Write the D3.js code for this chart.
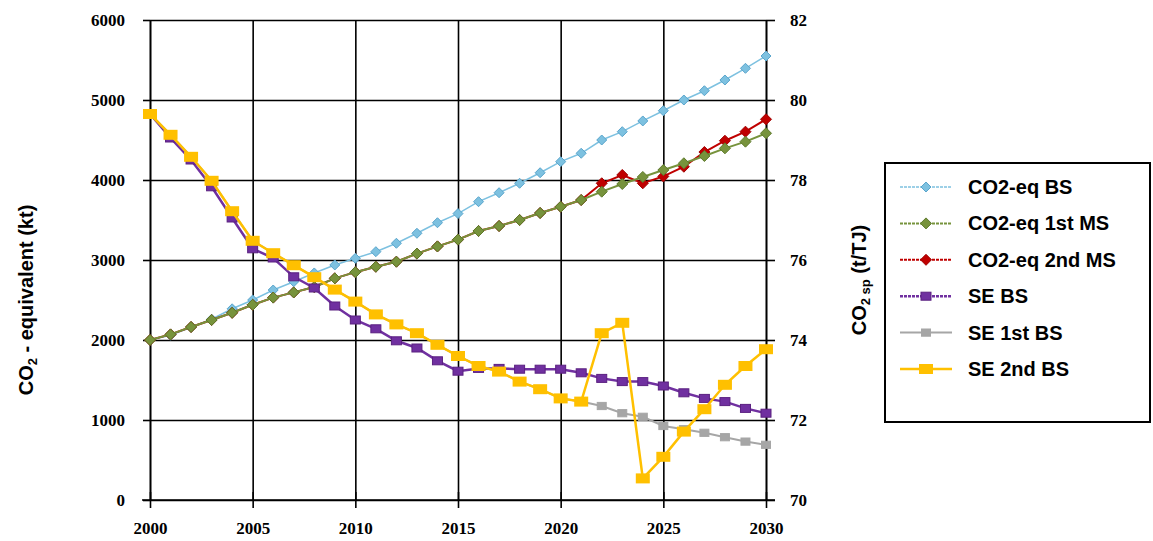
<!DOCTYPE html>
<html>
<head>
<meta charset="utf-8">
<script src="https://cdn.jsdelivr.net/npm/d3@7"></script>
<style>
  body { margin: 0; background: #fff; }
  svg { display: block; }
  text { font-family: "Liberation Sans", Arial, sans-serif; font-weight: bold; fill: #000; }
</style>
</head>
<body>
<script>
// years on the x axis
const years = [2000, 2001, 2002, 2003, 2004, 2005, 2006, 2007, 2008, 2009, 2010,
  2011, 2012, 2013, 2014, 2015, 2016, 2017, 2018, 2019, 2020,
  2021, 2022, 2023, 2024, 2025, 2026, 2027, 2028, 2029, 2030];

// CO2-equivalent (kt), left axis
const co2BS = [2000, 2060, 2160, 2260, 2390, 2500, 2625, 2729, 2838, 2938, 3021,
  3104, 3209, 3334, 3466, 3580, 3729, 3841, 3959, 4091, 4229,
  4334, 4500, 4604, 4738, 4866, 5000, 5116, 5250, 5396, 5550];
const co2MS1 = [2000, 2070, 2163, 2250, 2340, 2440, 2530, 2595, 2662, 2771, 2848,
  2916, 2979, 3080, 3170, 3255, 3363, 3425, 3500, 3588, 3666,
  3750, 3854, 3950, 4038, 4125, 4209, 4300, 4396, 4479, 4584];
const co2MS2 = [2000, 2070, 2163, 2250, 2340, 2440, 2530, 2595, 2662, 2771, 2848,
  2916, 2979, 3080, 3170, 3255, 3363, 3425, 3500, 3588, 3666,
  3750, 3959, 4063, 3959, 4045, 4166, 4350, 4491, 4604, 4759];

// specific emissions (t/TJ), right axis
const seBS = [79.65, 79.05, 78.5, 77.83, 77.05, 76.28, 76.05, 75.58, 75.3, 74.85, 74.5,
  74.28, 73.98, 73.8, 73.48, 73.22, 73.29, 73.29, 73.27, 73.27, 73.27,
  73.18, 73.04, 72.96, 72.96, 72.85, 72.68, 72.54, 72.46, 72.29, 72.17];
const se1 = [79.65, 79.13, 78.58, 77.98, 77.22, 76.48, 76.17, 75.87, 75.57, 75.26, 74.96,
  74.64, 74.39, 74.17, 73.88, 73.6, 73.35, 73.21, 72.96, 72.77, 72.54,
  72.46, 72.35, 72.17, 72.08, 71.85, 71.77, 71.68, 71.57, 71.46, 71.38];
const se2 = [79.65, 79.13, 78.58, 77.98, 77.22, 76.48, 76.17, 75.87, 75.57, 75.26, 74.96,
  74.64, 74.39, 74.17, 73.88, 73.6, 73.35, 73.21, 72.96, 72.77, 72.54,
  72.46, 74.17, 74.43, 70.54, 71.08, 71.71, 72.27, 72.88, 73.35, 73.77];

const leftTicks = [0, 1000, 2000, 3000, 4000, 5000, 6000];
const rightTicks = [70, 72, 74, 76, 78, 80, 82];
const xTicks = [2000, 2005, 2010, 2015, 2020, 2025, 2030];

const W = 1153, H = 541;
const pLeft = 150, pRight = 766, pTop = 20, pBottom = 500;

const svg = d3.select("body").append("svg").attr("width", W).attr("height", H);

const x = d3.scaleLinear().domain([2000, 2030]).range([pLeft, pRight]);
const yL = d3.scaleLinear().domain([0, 6000]).range([pBottom, pTop]);
const yR = d3.scaleLinear().domain([70, 82]).range([pBottom, pTop]);

// grid
svg.append("g")
  .attr("transform", `translate(${pLeft},0)`)
  .call(d3.axisLeft(yL).tickValues(leftTicks).tickSize(-(pRight - pLeft)).tickFormat(""))
  .call(g => g.select(".domain").remove())
  .call(g => g.selectAll("line").attr("stroke", "#000").attr("stroke-width", 1.6));
svg.append("g")
  .attr("transform", `translate(0,${pBottom})`)
  .call(d3.axisBottom(x).tickValues(xTicks).tickSize(-(pBottom - pTop)).tickFormat(""))
  .call(g => g.select(".domain").remove())
  .call(g => g.selectAll("line").attr("stroke", "#000").attr("stroke-width", 1.6));

// axes
const styleAxis = g => {
  g.select(".domain").attr("stroke", "#000").attr("stroke-width", 1.6);
  g.selectAll(".tick line").attr("stroke", "#000").attr("stroke-width", 1.6);
  g.selectAll("text").style("font-family", "'Liberation Serif', serif")
    .style("font-weight", "bold").style("font-size", "17px").attr("fill", "#000");
};
svg.append("g")
  .attr("transform", `translate(${pLeft},0)`)
  .call(d3.axisLeft(yL).tickValues(leftTicks).tickSize(7).tickSizeOuter(0).tickPadding(18).tickFormat(d3.format("d")))
  .call(styleAxis);
svg.append("g")
  .attr("transform", `translate(${pRight},0)`)
  .call(d3.axisRight(yR).tickValues(rightTicks).tickSize(9).tickSizeOuter(0).tickPadding(15).tickFormat(d3.format("d")))
  .call(styleAxis);
svg.append("g")
  .attr("transform", `translate(0,${pBottom})`)
  .call(d3.axisBottom(x).tickValues(xTicks).tickSize(8).tickSizeOuter(0).tickPadding(14).tickFormat(d3.format("d")))
  .call(styleAxis)
  .call(g => g.select(".domain").attr("d", `M${pLeft - 8},0H${pRight + 9}`));
// tick marks crossing the x axis upward
svg.append("g")
  .attr("transform", `translate(0,${pBottom})`)
  .call(d3.axisTop(x).tickValues(xTicks).tickSize(8).tickFormat(""))
  .call(g => g.select(".domain").remove())
  .call(g => g.selectAll("line").attr("stroke", "#000").attr("stroke-width", 1.6));

// axis titles
svg.append("text")
  .attr("transform", "translate(33,300) rotate(-90)")
  .attr("text-anchor", "middle")
  .style("font-size", "20px")
  .call(t => {
    t.append("tspan").text("CO");
    t.append("tspan").text("2").style("font-size", "13px").attr("dy", 4);
    t.append("tspan").text(" - equivalent (kt)").attr("dy", -4);
  });
svg.append("text")
  .attr("transform", "translate(866,280) rotate(-90)")
  .attr("text-anchor", "middle")
  .style("font-size", "20px")
  .call(t => {
    t.append("tspan").text("CO");
    t.append("tspan").text("2 sp").style("font-size", "13px").attr("dy", 4);
    t.append("tspan").text(" (t/TJ)").attr("dy", -4);
  });

// series definitions
const series = [
  { name: "CO2-eq BS", values: co2BS, y: yL, color: "#7DC1E0", stroke: "#5AA5CC", width: 1.5, shape: "diamond", size: 10 },
  { name: "CO2-eq 2nd MS", values: co2MS2, y: yL, color: "#C00000", stroke: "#A00000", width: 2, shape: "diamond", size: 11 },
  { name: "CO2-eq 1st MS", values: co2MS1, y: yL, color: "#77933C", stroke: "#5E7A2C", width: 2, shape: "diamond", size: 11 },
  { name: "SE BS", values: seBS, y: yR, color: "#7030A0", stroke: "#5A2080", width: 2.5, shape: "square", size: 10 },
  { name: "SE 1st BS", values: se1, y: yR, color: "#A6A6A6", stroke: "#A6A6A6", width: 2, shape: "square", size: 9 },
  { name: "SE 2nd BS", values: se2, y: yR, color: "#FFC000", stroke: "#FFC000", width: 2.5, shape: "rect", size: 10 }
];
const legendOrder = ["CO2-eq BS", "CO2-eq 1st MS", "CO2-eq 2nd MS", "SE BS", "SE 1st BS", "SE 2nd BS"];

function drawMarker(g, s, cx, cy) {
  const h = s.size / 2;
  if (s.shape === "diamond") {
    g.append("path")
      .attr("d", `M${cx},${cy - h}L${cx + h},${cy}L${cx},${cy + h}L${cx - h},${cy}Z`)
      .attr("fill", s.color).attr("stroke", s.stroke).attr("stroke-width", 1);
  } else if (s.shape === "square") {
    g.append("rect")
      .attr("x", cx - h).attr("y", cy - h * 0.8).attr("width", s.size).attr("height", s.size * 0.8)
      .attr("fill", s.color).attr("stroke", s.stroke).attr("stroke-width", 1);
  } else {
    g.append("rect")
      .attr("x", cx - 7).attr("y", cy - 5).attr("width", 14).attr("height", 10)
      .attr("fill", s.color);
  }
}

const plot = svg.append("g");
series.forEach(s => {
  const g = plot.append("g");
  const line = d3.line().x((d, i) => x(years[i])).y(d => s.y(d));
  g.append("path")
    .datum(s.values)
    .attr("d", line)
    .attr("fill", "none")
    .attr("stroke", s.color)
    .attr("stroke-width", s.width);
  s.values.forEach((v, i) => drawMarker(g, s, x(years[i]), s.y(v)));
});

// legend
const lg = svg.append("g");
lg.append("rect")
  .attr("x", 885).attr("y", 163).attr("width", 265).attr("height", 259)
  .attr("fill", "#fff").attr("stroke", "#000").attr("stroke-width", 2);
legendOrder.forEach((name, i) => {
  const s = series.find(d => d.name === name);
  const cy = 187 + i * 36.4;
  lg.append("line")
    .attr("x1", 900).attr("x2", 952).attr("y1", cy).attr("y2", cy)
    .attr("stroke", s.color).attr("stroke-width", s.width)
    .attr("stroke-dasharray", i < 4 ? "3,1" : null);
  drawMarker(lg, s, 926, cy);
  lg.append("text")
    .attr("x", 968).attr("y", cy + 7)
    .style("font-size", "20px")
    .text(name);
});
</script>
</body>
</html>
